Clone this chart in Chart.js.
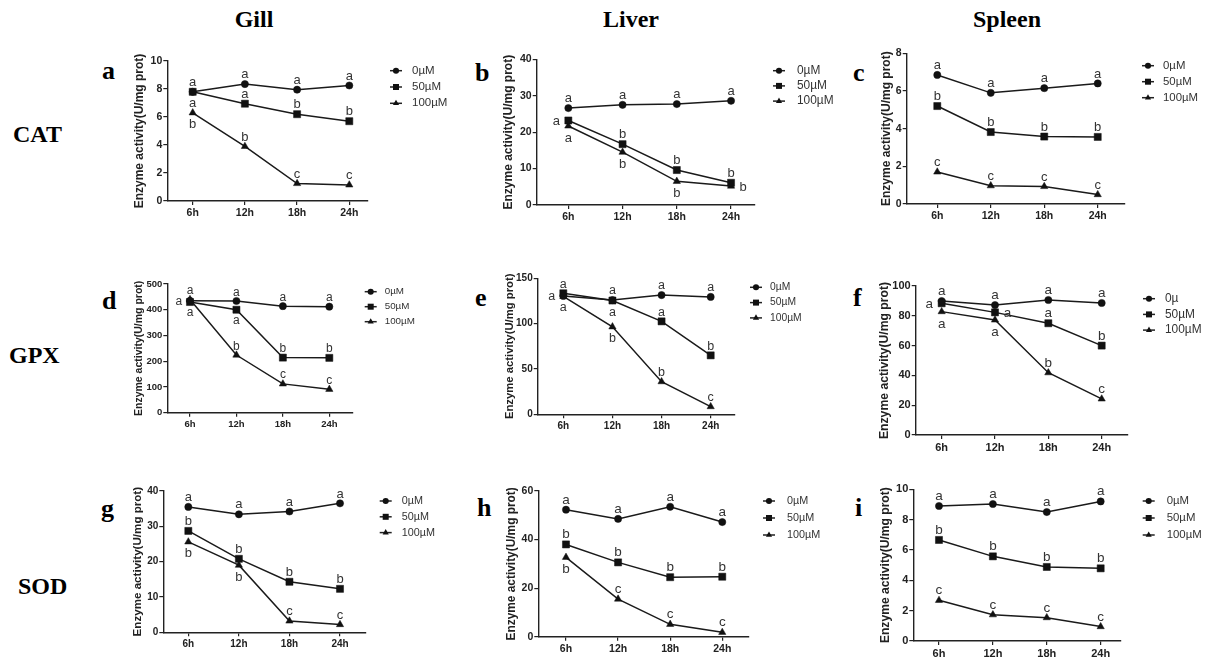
<!DOCTYPE html>
<html>
<head>
<meta charset="utf-8">
<script src="https://cdn.jsdelivr.net/npm/chart.js@4.4.0/dist/chart.umd.min.js"></script>
<style>
body { margin: 0; background: #fff; width: 1209px; height: 657px; position: relative; overflow: hidden; }
.lbl { position: absolute; font-family: "Liberation Serif", "Times New Roman", serif; font-weight: bold; color: #000; line-height: 1; white-space: nowrap; }
.col { font-size: 24px; transform: translateX(-50%); }
.row { font-size: 24px; }
.let { font-size: 26px; }
</style>
</head>
<body>
<div class="lbl col" style="left:254px;top:7px">Gill</div>
<div class="lbl col" style="left:631px;top:7px">Liver</div>
<div class="lbl col" style="left:1007px;top:7px">Spleen</div>
<div class="lbl row" style="left:13px;top:122px">CAT</div>
<div class="lbl row" style="left:9px;top:343px">GPX</div>
<div class="lbl row" style="left:18px;top:574px">SOD</div>
<div class="lbl let" style="left:102px;top:58px">a</div>
<div class="lbl let" style="left:475px;top:60px">b</div>
<div class="lbl let" style="left:853px;top:60px">c</div>
<div class="lbl let" style="left:102px;top:288px">d</div>
<div class="lbl let" style="left:475px;top:285px">e</div>
<div class="lbl let" style="left:853px;top:285px">f</div>
<div class="lbl let" style="left:101px;top:496px">g</div>
<div class="lbl let" style="left:477px;top:495px">h</div>
<div class="lbl let" style="left:855px;top:495px">i</div>
<script>
// Zeitpunkte und Gruppen
const hours = [6, 12, 18, 24];
const doses = ["0µM", "50µM", "100µM"];
const dosesF = ["0µ", "50µM", "100µM"];

// CAT
const gillCat0 = [7.8, 8.35, 7.95, 8.25];
const gillCat50 = [7.8, 6.95, 6.2, 5.7];
const gillCat100 = [6.3, 3.9, 1.25, 1.15];
const gillCatSig = [["a", "a", "a", "a"], ["a", "a", "b", "b"], ["b", "b", "c", "c"]];

const liverCat0 = [26.6, 27.5, 27.7, 28.6];
const liverCat50 = [23.2, 16.7, 9.6, 6.1];
const liverCat100 = [21.7, 14.5, 6.5, 5.2];
const liverCatSig = [["a", "a", "a", "a"], ["a", "b", "b", "b"], ["a", "b", "b", "b"]];

const spleenCat0 = [6.85, 5.9, 6.15, 6.4];
const spleenCat50 = [5.2, 3.82, 3.58, 3.56];
const spleenCat100 = [1.7, 0.97, 0.93, 0.5];
const spleenCatSig = [["a", "a", "a", "a"], ["b", "b", "b", "b"], ["c", "c", "c", "c"]];

// GPX
const gillGpx0 = [435, 434, 414, 412];
const gillGpx50 = [430, 400, 214, 213];
const gillGpx100 = [440, 224, 112, 91];
const gillGpxSig = [["a", "a", "a", "a"], ["a", "a", "b", "b"], ["a", "b", "c", "c"]];

const liverGpx0 = [130.5, 126, 131.5, 129.5];
const liverGpx50 = [133.5, 125.5, 102.5, 65];
const liverGpx100 = [130, 96.5, 36, 8.5];
const liverGpxSig = [["a", "a", "a", "a"], ["a", "a", "a", "b"], ["a", "b", "b", "c"]];

const spleenGpx0 = [89.9, 87.2, 90.6, 88.6];
const spleenGpx50 = [88.4, 82.3, 75, 60];
const spleenGpx100 = [82.8, 77.2, 41.8, 24.2];
const spleenGpxSig = [["a", "a", "a", "a"], ["a", "a", "a", "b"], ["a", "a", "b", "c"]];

// SOD
const gillSod0 = [35.5, 33.4, 34.2, 36.5];
const gillSod50 = [28.7, 20.8, 14.3, 12.3];
const gillSod100 = [25.6, 19.0, 3.2, 2.2];
const gillSodSig = [["a", "a", "a", "a"], ["b", "b", "b", "b"], ["b", "b", "c", "c"]];

const liverSod0 = [52.3, 48.5, 53.5, 47.2];
const liverSod50 = [38.0, 30.6, 24.5, 24.7];
const liverSod100 = [32.7, 15.5, 5.1, 1.8];
const liverSodSig = [["a", "a", "a", "a"], ["b", "b", "b", "b"], ["b", "c", "c", "c"]];

const spleenSod0 = [8.9, 9.03, 8.5, 9.2];
const spleenSod50 = [6.66, 5.58, 4.88, 4.79];
const spleenSod100 = [2.68, 1.73, 1.54, 0.95];
const spleenSodSig = [["a", "a", "a", "a"], ["b", "b", "b", "b"], ["c", "c", "c", "c"]];

const yMaxes = [10, 40, 8, 500, 150, 100, 40, 60, 10];
const ySteps = [2, 10, 2, 100, 50, 20, 10, 20, 2];

// Lage der Panels (Pixel) und Beschriftungsplatz: u=oben d=unten l=links r=rechts
const panels = [
  { s: [gillCat0, gillCat50, gillCat100], sig: gillCatSig, names: doses, place: ["uuuu", "duuu", "duuu"],
    axL: 167.3, axR: 368, yTop: 61, yBot: 201, xMin: 3.08, xMax: 26.15, tx: 140, tf: 12, kf: 10.5, lf: 11.5, sf: 13, leg: [22, 9.7, 16.3, 22] },
  { s: [liverCat0, liverCat50, liverCat100], sig: liverCatSig, names: doses, place: ["uuuu", "luuu", "dddr"],
    axL: 536.7, axR: 755, yTop: 59.3, yBot: 205, xMin: 2.5, xMax: 26.65, tx: 509, tf: 12, kf: 10.5, lf: 11.9, sf: 13, leg: [18, 11.4, 15.2, 24] },
  { s: [spleenCat0, spleenCat50, spleenCat100], sig: spleenCatSig, names: doses, place: ["uuuu", "uuuu", "uuuu"],
    axL: 906.7, axR: 1125, yTop: 53.3, yBot: 204, xMin: 2.57, xMax: 27.06, tx: 887, tf: 12, kf: 10.5, lf: 11.4, sf: 13, leg: [17, 12.4, 16, 21] },
  { s: [gillGpx0, gillGpx50, gillGpx100], sig: gillGpxSig, names: doses, place: ["luuu", "dduu", "uuuu"],
    axL: 167.3, axR: 352.7, yTop: 284, yBot: 412.7, xMin: 3.07, xMax: 27.02, tx: 139, tf: 10.5, kf: 9.5, lf: 9.8, sf: 12, leg: [12, 7.7, 15, 20] },
  { s: [liverGpx0, liverGpx50, liverGpx100], sig: liverGpxSig, names: doses, place: ["luuu", "uduu", "dduu"],
    axL: 537.7, axR: 735, yTop: 278.3, yBot: 414.3, xMin: 2.87, xMax: 26.97, tx: 510, tf: 11.3, kf: 10, lf: 10.3, sf: 12.5, leg: [15, 9, 15.3, 20] },
  { s: [spleenGpx0, spleenGpx50, spleenGpx100], sig: spleenGpxSig, names: dosesF, place: ["uuuu", "lruu", "dduu"],
    axL: 915.7, axR: 1128, yTop: 286, yBot: 435, xMin: 3.08, xMax: 26.96, tx: 885, tf: 12.2, kf: 11, lf: 11.9, sf: 13.5, leg: [15, 12.7, 15.7, 22] },
  { s: [gillSod0, gillSod50, gillSod100], sig: gillSodSig, names: doses, place: ["uuuu", "uuuu", "dduu"],
    axL: 163.3, axR: 365.7, yTop: 491, yBot: 632.3, xMin: 3.03, xMax: 27.05, tx: 137.5, tf: 11.6, kf: 10, lf: 10.8, sf: 13, leg: [14, 10, 15.8, 22] },
  { s: [liverSod0, liverSod50, liverSod100], sig: liverSodSig, names: doses, place: ["uuuu", "uuuu", "duuu"],
    axL: 538.3, axR: 749, yTop: 491, yBot: 636.7, xMin: 2.81, xMax: 27.08, tx: 512, tf: 11.9, kf: 10.5, lf: 10.8, sf: 13.5, leg: [14, 10, 17, 24] },
  { s: [spleenSod0, spleenSod50, spleenSod100], sig: spleenSodSig, names: doses, place: ["uuuu", "uuuu", "uuuu"],
    axL: 913.3, axR: 1120.7, yTop: 489.3, yBot: 641, xMin: 3.14, xMax: 26.23, tx: 886, tf: 12.1, kf: 11, lf: 11.4, sf: 13.5, leg: [22, 11.7, 17, 24] }
];

const styles = ["circle", "rect", "triangle"];
const radii = [3.6, 5, 4.2];
const sans = '"Liberation Sans", Arial, sans-serif';

function letterPlugin(p) {
  return {
    id: "letters",
    afterDatasetsDraw(chart) {
      const ctx = chart.ctx;
      ctx.save();
      ctx.font = p.sf + "px " + sans;
      ctx.fillStyle = "#333";
      ctx.textBaseline = "alphabetic";
      p.sig.forEach((row, i) => {
        const meta = chart.getDatasetMeta(i);
        row.forEach((txt, j) => {
          const pt = meta.data[j];
          const c = p.place[i][j];
          let x = pt.x, y = pt.y;
          ctx.textAlign = "center";
          if (c === "u") y -= p.sf * 0.45;
          else if (c === "d") y += p.sf * 1.2;
          else if (c === "l") { ctx.textAlign = "right"; x -= p.sf * 0.65; y += p.sf * 0.35; }
          else { ctx.textAlign = "left"; x += p.sf * 0.65; y += p.sf * 0.35; }
          ctx.fillText(txt, x, y);
        });
      });
      ctx.restore();
    }
  };
}

function legendPlugin(p) {
  return {
    id: "legendLines",
    afterDraw(chart) {
      const { ctx, chartArea } = chart;
      ctx.save();
      p.names.forEach((name, i) => {
        const x0 = chartArea.right + p.leg[0];
        const y = chartArea.top + p.leg[1] + i * p.leg[2];
        ctx.strokeStyle = "#222";
        ctx.lineWidth = 1.5;
        ctx.beginPath();
        ctx.moveTo(x0, y);
        ctx.lineTo(x0 + 12, y);
        ctx.stroke();
        ctx.fillStyle = "#111";
        Chart.helpers.drawPoint(ctx, { pointStyle: styles[i], radius: radii[i] * 0.85, rotation: 0, borderWidth: 0 }, x0 + 6, y);
        ctx.fillStyle = "#333";
        ctx.font = p.lf + "px " + sans;
        ctx.textAlign = "left";
        ctx.textBaseline = "middle";
        ctx.fillText(name, x0 + p.leg[3], y);
      });
      ctx.restore();
    }
  };
}

panels.forEach((p, k) => {
  const lh = p.tf * 1.2;
  const cl = Math.round(p.tx - lh / 2 - 2);
  const ct = Math.round(p.yTop) - 12;
  const cw = Math.round(p.axR + 85 - cl);
  const ch = Math.round(p.yBot) + 24 - ct;
  const cv = document.createElement("canvas");
  cv.width = cw;
  cv.height = ch;
  cv.style.cssText = "position:absolute;left:" + cl + "px;top:" + ct + "px;width:" + cw + "px;height:" + ch + "px";
  document.body.appendChild(cv);

  new Chart(cv, {
    type: "line",
    data: {
      datasets: p.s.map((vals, i) => ({
        label: p.names[i],
        data: vals.map((v, j) => ({ x: hours[j], y: v })),
        borderColor: "#1a1a1a",
        borderWidth: 1.5,
        pointStyle: styles[i],
        pointRadius: radii[i],
        pointBackgroundColor: "#111",
        pointBorderColor: "#111",
        pointBorderWidth: 0.5,
        tension: 0,
        fill: false,
        clip: false
      }))
    },
    options: {
      responsive: false,
      animation: false,
      devicePixelRatio: 1,
      layout: { padding: { left: 0, top: p.yTop - ct, right: cl + cw - p.axR, bottom: 0 } },
      plugins: { legend: { display: false }, tooltip: { enabled: false } },
      scales: {
        x: {
          type: "linear",
          min: p.xMin,
          max: p.xMax,
          afterBuildTicks: (s) => { s.ticks = hours.map((v) => ({ value: v })); },
          afterFit: (s) => { s.height = ct + ch - p.yBot; },
          grid: { drawOnChartArea: false, tickLength: 4, color: "#222", lineWidth: 1.2 },
          border: { color: "#222", width: 1.4 },
          ticks: { padding: 2, color: "#222", font: { family: sans, size: p.kf, weight: "bold" }, callback: (v) => v + "h" }
        },
        y: {
          min: 0,
          max: yMaxes[k],
          afterFit: (s) => { s.width = p.axL - cl; },
          grid: { drawOnChartArea: false, tickLength: 4, color: "#222", lineWidth: 1.2 },
          border: { color: "#222", width: 1.4 },
          ticks: { stepSize: ySteps[k], padding: 1, color: "#222", font: { family: sans, size: p.kf, weight: "bold" } },
          title: {
            display: true,
            text: "Enzyme activity(U/mg prot)",
            color: "#222",
            padding: { top: p.tx - lh / 2 - cl, bottom: 0 },
            font: { family: sans, size: p.tf, weight: "bold" }
          }
        }
      }
    },
    plugins: [letterPlugin(p), legendPlugin(p)]
  });
});
</script>
</body>
</html>
